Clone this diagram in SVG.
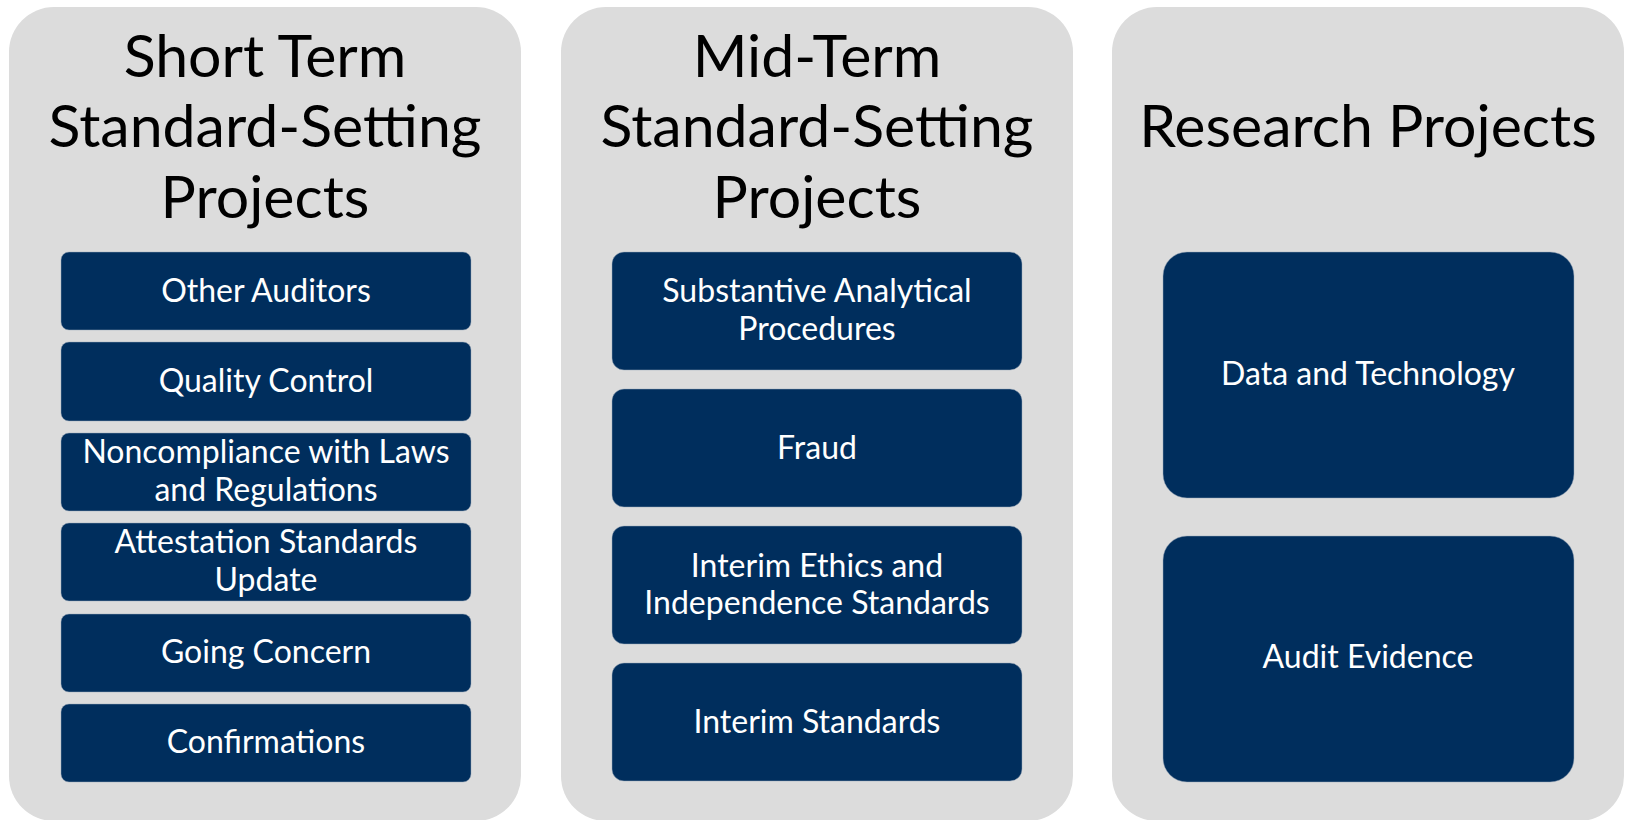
<svg xmlns="http://www.w3.org/2000/svg" width="1625" height="820" viewBox="0 0 1625 820">
<style>
.panel{fill:#DCDCDC}
.box{fill:#002E5D;stroke:#9AA8BA;stroke-width:0.8;stroke-opacity:0.6}
.h{font-family:Lato,"Liberation Sans",sans-serif;font-size:59px;fill:#000;text-anchor:middle}
.t{font-family:Lato,"Liberation Sans",sans-serif;font-size:32px;fill:#fff;text-anchor:middle}
</style>
<rect width="1625" height="820" fill="#fff"/>
<g id="panel-short">
<rect class="panel" x="9" y="7" width="512" height="814" rx="45"/>
<text class="h" x="265" y="77">Short Term</text>
<text class="h" x="265" y="147">Standard-Setting</text>
<text class="h" x="265" y="218">Projects</text>
</g>
<g id="panel-mid">
<rect class="panel" x="561" y="7" width="512" height="814" rx="45"/>
<text class="h" x="817" y="77">Mid-Term</text>
<text class="h" x="817" y="147">Standard-Setting</text>
<text class="h" x="817" y="218">Projects</text>
</g>
<g id="panel-research">
<rect class="panel" x="1112" y="7" width="512" height="814" rx="45"/>
<text class="h" x="1368" y="147">Research Projects</text>
</g>
<g id="n-other-auditors"><rect class="box" x="61" y="252" width="410" height="78" rx="8"/><text class="t" x="266" y="302">Other Auditors</text></g>
<g id="n-quality-control"><rect class="box" x="61" y="342" width="410" height="79" rx="8"/><text class="t" x="266" y="392">Quality Control</text></g>
<g id="n-noncompliance"><rect class="box" x="61" y="433" width="410" height="78" rx="8"/><text class="t" x="266" y="463">Noncompliance with Laws</text><text class="t" x="266" y="501">and Regulations</text></g>
<g id="n-attestation"><rect class="box" x="61" y="523" width="410" height="78" rx="8"/><text class="t" x="266" y="553">Attestation Standards</text><text class="t" x="266" y="591">Update</text></g>
<g id="n-going-concern"><rect class="box" x="61" y="614" width="410" height="78" rx="8"/><text class="t" x="266" y="663">Going Concern</text></g>
<g id="n-confirmations"><rect class="box" x="61" y="704" width="410" height="78" rx="8"/><text class="t" x="266" y="753">Confirmations</text></g>
<g id="n-sap"><rect class="box" x="612" y="252" width="410" height="118" rx="12"/><text class="t" x="817" y="302">Substantive Analytical</text><text class="t" x="817" y="340">Procedures</text></g>
<g id="n-fraud"><rect class="box" x="612" y="389" width="410" height="118" rx="12"/><text class="t" x="817" y="459">Fraud</text></g>
<g id="n-ethics"><rect class="box" x="612" y="526" width="410" height="118" rx="12"/><text class="t" x="817" y="577">Interim Ethics and</text><text class="t" x="817" y="614">Independence Standards</text></g>
<g id="n-interim"><rect class="box" x="612" y="663" width="410" height="118" rx="12"/><text class="t" x="817" y="733">Interim Standards</text></g>
<g id="n-data-tech"><rect class="box" x="1163" y="252" width="411" height="246" rx="24"/><text class="t" x="1368" y="385">Data and Technology</text></g>
<g id="n-audit-evidence"><rect class="box" x="1163" y="536" width="411" height="246" rx="24"/><text class="t" x="1368" y="668">Audit Evidence</text></g>
<g id="connectors"/>
</svg>
